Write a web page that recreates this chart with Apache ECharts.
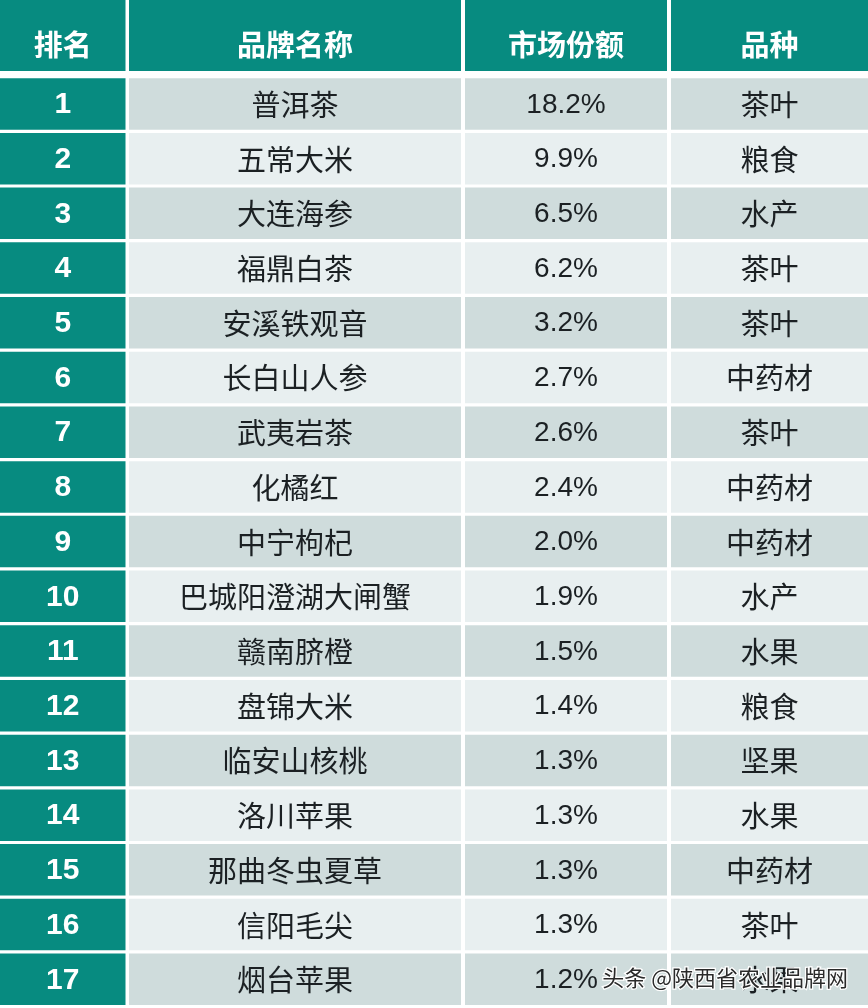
<!DOCTYPE html>
<html>
<head>
<meta charset="utf-8">
<style>
  html, body { margin: 0; padding: 0; background: #fff; }
  #chart { width: 868px; height: 1008px; }
</style>
<script src="https://cdn.jsdelivr.net/npm/echarts@6/dist/echarts.min.js"></script>
</head>
<body>
<div id="chart"></div>
<script>
const headers = ['排名', '品牌名称', '市场份额', '品种'];
const ranks = ['1', '2', '3', '4', '5', '6', '7', '8', '9', '10', '11', '12', '13', '14', '15', '16', '17'];
const brands = ['普洱茶', '五常大米', '大连海参', '福鼎白茶', '安溪铁观音', '长白山人参', '武夷岩茶', '化橘红', '中宁枸杞',
    '巴城阳澄湖大闸蟹', '赣南脐橙', '盘锦大米', '临安山核桃', '洛川苹果', '那曲冬虫夏草', '信阳毛尖', '烟台苹果'];
const shares = [18.2, 9.9, 6.5, 6.2, 3.2, 2.7, 2.6, 2.4, 2.0, 1.9, 1.5, 1.4, 1.3, 1.3, 1.3, 1.3, 1.2];
const kinds = ['茶叶', '粮食', '水产', '茶叶', '茶叶', '中药材', '茶叶', '中药材', '中药材', '水产', '水果', '粮食', '坚果', '水果', '中药材', '茶叶', '水果'];

// column edges on the x axis (left, right)
const columns = [[0, 125.5], [129, 461], [465, 667], [671, 868]];
const cjk = '"Noto Sans CJK SC", sans-serif';
const latin = '"Liberation Sans", Arial, sans-serif';
const teal = '#078b80';

const cell = (params, api, fill, text, font, color) => {
    const col = columns[api.value(1)];
    const left = api.coord([col[0], api.value(0)]);
    const right = api.coord([col[1], api.value(0)]);
    const band = api.size([0, 1])[1];
    const isHeader = band > 60;
    const h = isHeader ? band : 51.5;
    const top = isHeader ? 0 : left[1] - h / 2;
    return {
        type: 'group',
        children: [
            { type: 'rect', shape: { x: left[0], y: top, width: right[0] - left[0], height: h }, style: { fill: fill } },
            {
                type: 'text',
                style: {
                    x: (left[0] + right[0]) / 2, y: left[1] + (isHeader ? 9 : 1),
                    text: text, font: font, fill: color, align: 'center', verticalAlign: 'middle'
                }
            }
        ]
    };
};

const headerData = headers.map((h, i) => [0, i, h]);
const bodyData = [];
ranks.forEach((r, i) => {
    bodyData.push([i, 0, r]);
    bodyData.push([i, 1, brands[i]]);
    bodyData.push([i, 2, shares[i].toFixed(1) + '%']);
    bodyData.push([i, 3, kinds[i]]);
});

const hiddenX = (gridIndex) => ({ type: 'value', gridIndex, min: 0, max: 868, show: false });
const hiddenY = (gridIndex, data) => ({ type: 'category', gridIndex, data, inverse: true, show: false });

const chart = echarts.init(document.getElementById('chart'));
chart.setOption({
    backgroundColor: '#ffffff',
    animation: false,
    grid: [
        { left: 0, right: 0, top: 0, height: 71 },
        { left: 0, right: 0, top: 76.6, height: 930 }
    ],
    xAxis: [hiddenX(0), hiddenX(1)],
    yAxis: [hiddenY(0, ['表头']), hiddenY(1, ranks)],
    series: [
        {
            type: 'custom', xAxisIndex: 0, yAxisIndex: 0, data: headerData,
            encode: { x: 1, y: 0 },
            renderItem: (params, api) => cell(params, api, teal, headerData[params.dataIndex][2], 'bold 29px ' + cjk, '#ffffff')
        },
        {
            type: 'custom', xAxisIndex: 1, yAxisIndex: 1, data: bodyData,
            encode: { x: 1, y: 0 },
            renderItem: (params, api) => {
                const d = bodyData[params.dataIndex];
                if (d[1] === 0) {
                    return cell(params, api, teal, d[2], 'bold 30px ' + latin, '#ffffff');
                }
                const fill = d[0] % 2 === 0 ? '#cfdcdc' : '#e8eff0';
                const font = d[1] === 2 ? '28px ' + latin : '29px ' + cjk;
                return cell(params, api, fill, d[2], font, '#1b2023');
            }
        }
    ],
    graphic: [
        {
            type: 'text', left: 601, top: 965, z: 100,
            style: { text: '头条 @陕西省农业品牌网', font: '22px ' + cjk, fill: '#2a2a2a', stroke: '#ffffff', lineWidth: 2.5 }
        }
    ]
});
</script>
</body>
</html>
